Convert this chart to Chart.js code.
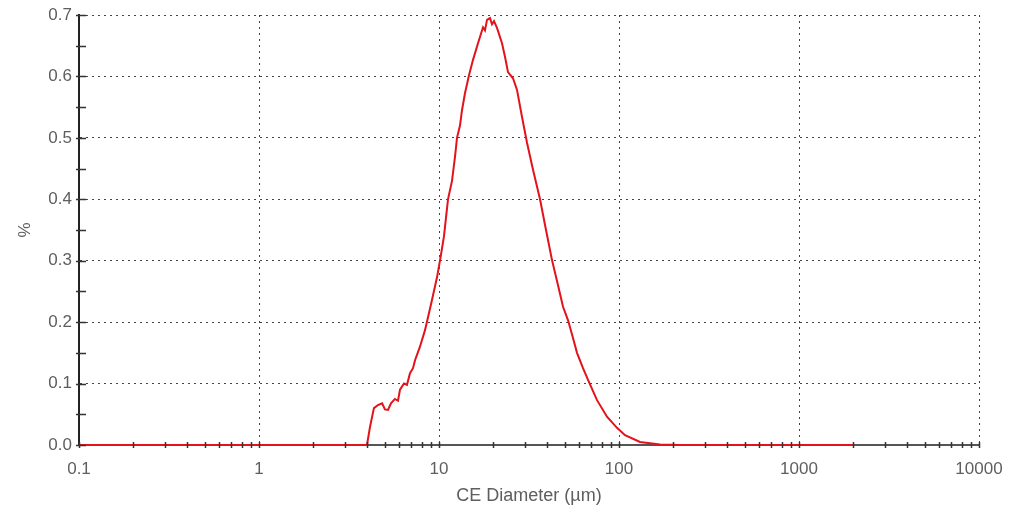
<!DOCTYPE html>
<html>
<head>
<meta charset="utf-8">
<script src="https://cdn.jsdelivr.net/npm/chart.js@4"></script>
<style>
  html, body { margin: 0; padding: 0; background: #fff; }
</style>
</head>
<body>
<canvas id="sizeChart" width="1012" height="514"></canvas>
<script>
// CE diameter (µm) and volume %
const diameters = [0.1, 3.9, 3.98, 4.14, 4.35, 4.58, 4.83, 5.01, 5.21, 5.41, 5.69, 5.92, 6.07, 6.39,
  6.64, 6.9, 7.17, 7.36, 7.84, 8.36, 8.69, 9.14, 9.75, 10.26, 10.66, 11.22, 11.81, 12.27, 12.59,
  13.08, 13.42, 13.95, 14.68, 15.45, 16.47, 17.56, 18.01, 18.48, 19.2, 19.7, 20.21, 21.0, 22.39,
  23.26, 24.17, 25.77, 27.13, 28.92, 30.83, 33.29, 36.41, 39.31, 42.45, 45.83, 48.87, 52.11, 54.83,
  58.45, 63.1, 67.28, 75.49, 85.76, 97.47, 108.0, 130.8, 169.0, 218.3, 2000];
const percents = [0, 0, 0, 0.03, 0.06, 0.065, 0.068, 0.058, 0.057, 0.068, 0.075, 0.072, 0.09, 0.1,
  0.098, 0.117, 0.125, 0.138, 0.16, 0.187, 0.208, 0.236, 0.273, 0.31, 0.34, 0.4, 0.43, 0.469, 0.5,
  0.52, 0.545, 0.573, 0.602, 0.627, 0.654, 0.68, 0.675, 0.692, 0.695, 0.685, 0.69, 0.679, 0.654,
  0.632, 0.607, 0.597, 0.578, 0.534, 0.492, 0.448, 0.4, 0.35, 0.301, 0.26, 0.225, 0.203, 0.18,
  0.15, 0.125, 0.106, 0.073, 0.046, 0.028, 0.016, 0.005, 0.001, 0, 0];

const xDecades = [0.1, 1, 10, 100, 1000, 10000];
const yTicks = [0, 0.1, 0.2, 0.3, 0.4, 0.5, 0.6, 0.7];

const labelColor = "#5e5e5e";
const gridColor = "#444";
const fontFamily = "Liberation Sans, Arial";

// all 1..9 multiples in every decade, labels only on the decades
function logTicks() {
  const out = [];
  for (let i = 0; i < xDecades.length; i++) {
    const d = xDecades[i];
    if (i === xDecades.length - 1) { out.push({ value: d, major: true }); break; }
    for (let m = 1; m < 10; m++) out.push({ value: +(d * m).toPrecision(6), major: m === 1 });
  }
  return out;
}

// small tick marks crossing both axes (minor ones too)
const axisTicks = {
  id: "axisTicks",
  afterDraw(chart) {
    const { ctx, scales } = chart;
    const xs = scales.x, ys = scales.y;
    ctx.save();
    ctx.strokeStyle = "#333";
    ctx.lineWidth = 1.5;
    ctx.beginPath();
    xs.ticks.forEach((t) => {
      const px = Math.round(xs.getPixelForValue(t.value)) + 0.5;
      ctx.moveTo(px, ys.bottom - 3);
      ctx.lineTo(px, ys.bottom + 3);
    });
    for (let v = 0; v <= 0.7001; v += 0.05) {
      const py = Math.round(ys.getPixelForValue(v)) + 0.5;
      ctx.moveTo(xs.left - 3, py);
      ctx.lineTo(xs.left + 7, py);
    }
    ctx.stroke();
    ctx.restore();
  },
};

new Chart(document.getElementById("sizeChart"), {
  type: "line",
  data: {
    datasets: [
      {
        data: diameters.map((d, i) => ({ x: d, y: percents[i] })),
        borderColor: "#e3121b",
        borderWidth: 2,
        pointRadius: 0,
        tension: 0,
        clip: false,
      },
    ],
  },
  options: {
    responsive: false,
    animation: false,
    devicePixelRatio: 1,
    layout: { padding: { left: 0, right: 33, top: 15, bottom: 0 } },
    plugins: { legend: { display: false }, tooltip: { enabled: false } },
    scales: {
      x: {
        type: "logarithmic",
        min: 0.1,
        max: 10000,
        afterBuildTicks: (scale) => { scale.ticks = logTicks(); },
        afterFit: (scale) => {
          scale.height = 69;
          scale.paddingLeft = 0;
          scale.paddingRight = 0;
        },
        ticks: {
          autoSkip: false,
          maxRotation: 0,
          padding: 14,
          color: labelColor,
          font: { family: fontFamily, size: 17 },
          callback: (v) => (xDecades.includes(v) ? String(v) : ""),
        },
        grid: {
          drawTicks: false,
          lineWidth: 1,
          color: (c) => (c.tick && c.tick.major && c.tick.value > 0.1 ? gridColor : "transparent"),
        },
        border: { display: true, color: "#555", width: 2, dash: [2, 4] },
        title: {
          display: true,
          text: "CE Diameter (µm)",
          color: labelColor,
          font: { family: fontFamily, size: 18 },
          padding: { top: 2, bottom: 7 },
        },
      },
      y: {
        min: 0,
        max: 0.7,
        afterBuildTicks: (scale) => { scale.ticks = yTicks.map((v) => ({ value: v })); },
        afterFit: (scale) => {
          scale.width = 79;
          scale.paddingTop = 0;
          scale.paddingBottom = 0;
        },
        ticks: {
          padding: 7,
          color: labelColor,
          font: { family: fontFamily, size: 17 },
          callback: (v) => v.toFixed(1),
        },
        grid: {
          drawTicks: false,
          lineWidth: 1,
          color: (c) => (c.tick && c.tick.value > 0 ? gridColor : "transparent"),
        },
        border: { display: true, color: "#222", width: 2, dash: [2, 4] },
        title: {
          display: true,
          text: "%",
          color: labelColor,
          font: { family: fontFamily, size: 17 },
          padding: { top: 15, bottom: 0 },
        },
      },
    },
  },
  plugins: [axisTicks],
});
</script>
</body>
</html>
